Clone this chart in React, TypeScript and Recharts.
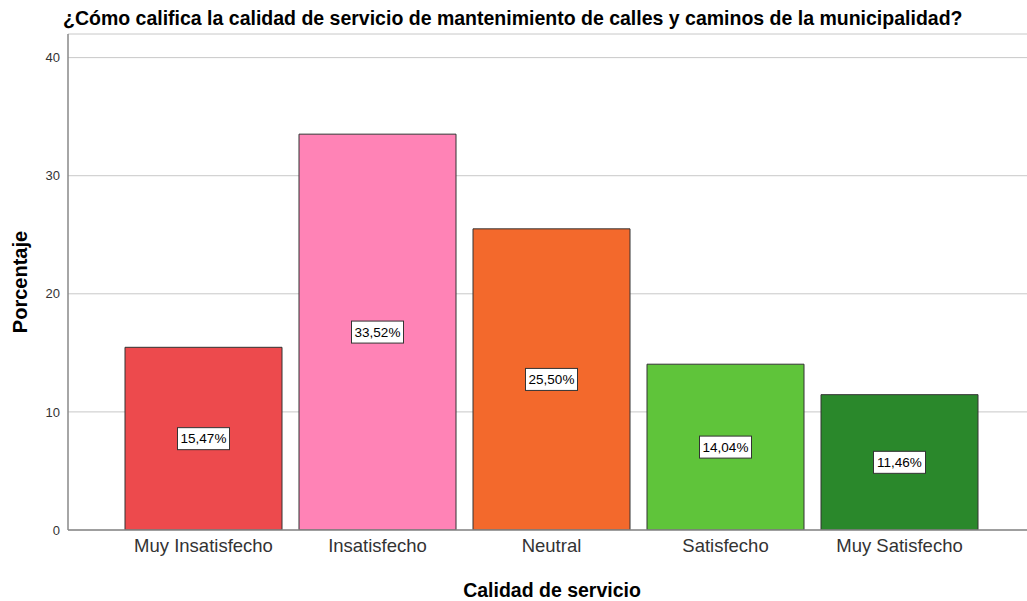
import { Bar, BarChart, CartesianGrid, Cell, LabelList, XAxis, YAxis } from 'recharts';

const categories = ['Muy Insatisfecho', 'Insatisfecho', 'Neutral', 'Satisfecho', 'Muy Satisfecho'];
const percentages = [15.47, 33.52, 25.5, 14.04, 11.46];
const barColors = ['#ED4A4D', '#FF83B6', '#F3692C', '#5FC43A', '#2A882B'];
const yTicks = [0, 10, 20, 30, 40];

const data = categories.map((name, i) => ({ name, value: percentages[i] }));

const font = '"Liberation Sans", Arial, sans-serif';

function fmt(v: number) {
  return v.toFixed(2).replace('.', ',') + '%';
}

function ValueBox(props: any) {
  const { x, y, width, height, value } = props;
  const cx = x + width / 2;
  const cy = y + height / 2;
  const w = 52;
  const h = 22;
  return (
    <g>
      <rect x={cx - w / 2} y={cy - h / 2} width={w} height={h} fill="#fff" stroke="#333" strokeWidth={1} />
      <text x={cx} y={cy + 1} textAnchor="middle" dominantBaseline="middle" fontSize={13.5} fontFamily={font} fill="#000">
        {fmt(value)}
      </text>
    </g>
  );
}

export default function App() {
  return (
    <div style={{ position: 'absolute', left: 0, top: 0, width: 1027, height: 601, background: '#fff', fontFamily: font }}>
      <div style={{ position: 'absolute', left: 63, top: 7, fontSize: 19.5, fontWeight: 'bold', color: '#000', whiteSpace: 'nowrap' }}>
        ¿Cómo califica la calidad de servicio de mantenimiento de calles y caminos de la municipalidad?
      </div>
      <BarChart
        width={1027}
        height={601}
        data={data}
        margin={{ top: 34, right: 0, bottom: 41, left: 0 }}
        barCategoryGap={8.5}
      >
        <CartesianGrid vertical={false} stroke="#C8C8C8" strokeWidth={1} />
        <XAxis
          dataKey="name"
          height={30}
          padding={{ left: 48.5, right: 40.5 }}
          tickLine={false}
          tickMargin={3}
          axisLine={{ stroke: '#888', strokeWidth: 1.5 }}
          tick={{ fontSize: 18.5, fill: '#333', fontFamily: font }}
          interval={0}
        />
        <YAxis
          width={68}
          domain={[0, 42]}
          ticks={yTicks}
          tickLine={false}
          axisLine={{ stroke: '#888', strokeWidth: 1.5 }}
          tick={{ fontSize: 13, fill: '#333', fontFamily: font }}
          allowDataOverflow
        />
        <Bar dataKey="value" stroke="#333" strokeWidth={1} isAnimationActive={false}>
          {data.map((d, i) => (
            <Cell key={d.name} fill={barColors[i]} />
          ))}
          <LabelList dataKey="value" content={ValueBox} />
        </Bar>
      </BarChart>
      <div
        style={{
          position: 'absolute',
          left: 20,
          top: 282,
          transform: 'translate(-50%, -50%) rotate(-90deg)',
          fontSize: 20,
          fontWeight: 'bold',
          whiteSpace: 'nowrap',
        }}
      >
        Porcentaje
      </div>
      <div
        style={{
          position: 'absolute',
          left: 552,
          top: 590,
          transform: 'translate(-50%, -50%)',
          fontSize: 19.5,
          fontWeight: 'bold',
          whiteSpace: 'nowrap',
        }}
      >
        Calidad de servicio
      </div>
    </div>
  );
}
